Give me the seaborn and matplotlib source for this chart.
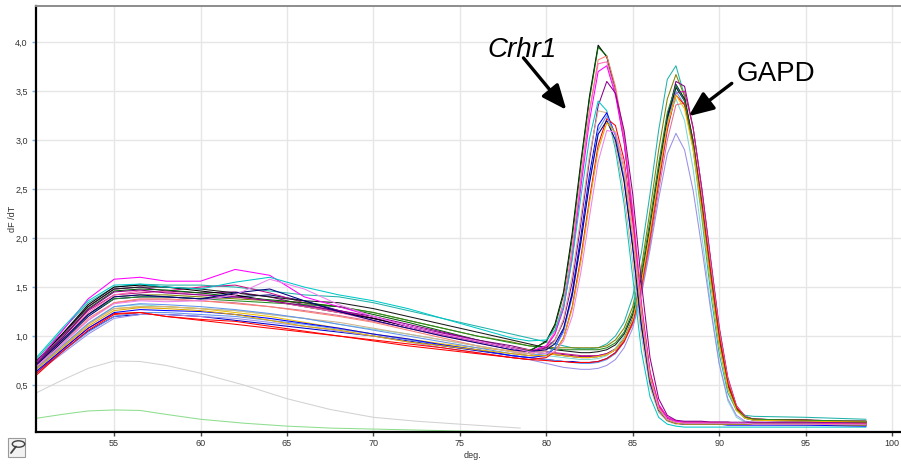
import matplotlib
matplotlib.use("Agg")
import matplotlib.pyplot as plt
from matplotlib.patches import Rectangle, Circle
from matplotlib.lines import Line2D
from matplotlib.ticker import FuncFormatter
import pandas as pd
import seaborn as sns

# Temperature grids (deg. C): slow background region and melt-peak region
temps_hump = [50.5, 52, 53.5, 55, 56.5, 58, 60, 62, 64, 66, 68, 70, 72, 74, 76, 78]
temps_melt = [79, 80, 80.5, 81, 81.5, 82, 82.5, 83, 83.5, 84, 84.5, 85, 85.5, 86,
              86.5, 87, 87.5, 88, 88.5, 89, 89.5, 90, 90.5, 91, 91.5, 92, 95, 98.5]

# Crhr1 samples: dF/dT on the background grid
crhr1_hump = [
    [0.74, 1.02, 1.32, 1.50, 1.52, 1.50, 1.46, 1.42, 1.36, 1.30, 1.24, 1.18, 1.10, 1.02, 0.95, 0.88],
    [0.72, 0.98, 1.28, 1.46, 1.48, 1.47, 1.44, 1.40, 1.37, 1.34, 1.30, 1.22, 1.14, 1.05, 0.96, 0.88],
    [0.68, 0.92, 1.18, 1.34, 1.38, 1.38, 1.36, 1.33, 1.30, 1.25, 1.20, 1.14, 1.06, 0.98, 0.90, 0.84],
    [0.70, 0.96, 1.24, 1.42, 1.46, 1.45, 1.42, 1.40, 1.36, 1.30, 1.24, 1.16, 1.08, 1.00, 0.93, 0.86],
    [0.73, 1.05, 1.38, 1.58, 1.60, 1.56, 1.56, 1.68, 1.62, 1.40, 1.30, 1.20, 1.10, 1.02, 0.95, 0.88],
    [0.71, 0.98, 1.27, 1.45, 1.47, 1.44, 1.42, 1.40, 1.36, 1.31, 1.26, 1.20, 1.12, 1.04, 0.96, 0.88],
    [0.78, 1.08, 1.36, 1.52, 1.53, 1.50, 1.48, 1.55, 1.60, 1.50, 1.42, 1.36, 1.28, 1.18, 1.08, 0.98],
    [0.66, 0.88, 1.12, 1.28, 1.30, 1.30, 1.28, 1.26, 1.22, 1.18, 1.14, 1.08, 1.02, 0.96, 0.90, 0.84],
    [0.64, 0.86, 1.08, 1.24, 1.27, 1.26, 1.25, 1.22, 1.18, 1.13, 1.08, 1.02, 0.97, 0.91, 0.86, 0.80],
    [0.60, 0.84, 1.06, 1.22, 1.24, 1.20, 1.17, 1.15, 1.10, 1.05, 1.00, 0.96, 0.92, 0.88, 0.83, 0.78],
    [0.67, 0.90, 1.13, 1.30, 1.33, 1.32, 1.30, 1.27, 1.23, 1.18, 1.12, 1.06, 1.00, 0.94, 0.88, 0.82],
    [0.70, 0.96, 1.22, 1.40, 1.42, 1.40, 1.38, 1.44, 1.48, 1.36, 1.25, 1.16, 1.08, 1.00, 0.93, 0.86],
    [0.66, 0.88, 1.10, 1.26, 1.29, 1.28, 1.26, 1.22, 1.16, 1.10, 1.06, 1.00, 0.94, 0.90, 0.86, 0.82],
    [0.69, 0.92, 1.16, 1.33, 1.36, 1.35, 1.36, 1.42, 1.58, 1.48, 1.32, 1.20, 1.10, 1.02, 0.95, 0.88],
]

# Crhr1 samples: dF/dT on the melt grid (peak near 83 deg.)
crhr1_melt = [
    [0.84, 0.95, 1.12, 1.45, 2.05, 2.78, 3.45, 3.97, 3.85, 3.50, 3.00, 2.20, 1.25, 0.58, 0.28, 0.16, 0.12, 0.11, 0.11, 0.11, 0.11, 0.10, 0.10, 0.10, 0.10, 0.10, 0.10, 0.09],
    [0.85, 0.94, 1.10, 1.42, 2.00, 2.74, 3.42, 3.95, 3.86, 3.52, 3.02, 2.22, 1.28, 0.60, 0.29, 0.17, 0.13, 0.12, 0.12, 0.12, 0.12, 0.12, 0.12, 0.11, 0.11, 0.11, 0.11, 0.11],
    [0.80, 0.88, 1.02, 1.30, 1.85, 2.60, 3.30, 3.82, 3.86, 3.55, 3.05, 2.30, 1.35, 0.64, 0.30, 0.17, 0.13, 0.12, 0.12, 0.12, 0.11, 0.11, 0.11, 0.11, 0.11, 0.11, 0.10, 0.10],
    [0.82, 0.90, 1.05, 1.35, 1.90, 2.62, 3.30, 3.78, 3.80, 3.50, 3.00, 2.25, 1.30, 0.62, 0.30, 0.17, 0.13, 0.12, 0.12, 0.12, 0.12, 0.12, 0.11, 0.11, 0.11, 0.11, 0.11, 0.10],
    [0.84, 0.90, 1.02, 1.28, 1.80, 2.52, 3.20, 3.70, 3.76, 3.46, 2.98, 2.25, 1.32, 0.63, 0.30, 0.17, 0.13, 0.12, 0.12, 0.12, 0.12, 0.12, 0.12, 0.11, 0.11, 0.11, 0.11, 0.10],
    [0.84, 0.88, 0.96, 1.15, 1.55, 2.15, 2.80, 3.35, 3.60, 3.48, 3.10, 2.45, 1.55, 0.78, 0.36, 0.19, 0.14, 0.13, 0.13, 0.13, 0.12, 0.12, 0.12, 0.12, 0.12, 0.12, 0.12, 0.11],
    [0.95, 0.96, 1.06, 1.30, 1.78, 2.42, 3.02, 3.40, 3.30, 2.90, 2.35, 1.60, 0.85, 0.38, 0.17, 0.10, 0.08, 0.07, 0.07, 0.07, 0.07, 0.07, 0.07, 0.07, 0.07, 0.07, 0.07, 0.07],
    [0.82, 0.85, 0.95, 1.18, 1.62, 2.22, 2.85, 3.30, 3.28, 2.95, 2.45, 1.75, 1.00, 0.48, 0.22, 0.13, 0.10, 0.10, 0.10, 0.10, 0.10, 0.10, 0.10, 0.10, 0.10, 0.10, 0.09, 0.09],
    [0.78, 0.80, 0.88, 1.06, 1.45, 2.02, 2.65, 3.15, 3.28, 3.05, 2.60, 1.90, 1.10, 0.52, 0.24, 0.14, 0.11, 0.10, 0.10, 0.10, 0.10, 0.10, 0.09, 0.09, 0.09, 0.09, 0.09, 0.08],
    [0.76, 0.78, 0.84, 0.98, 1.30, 1.80, 2.40, 2.95, 3.22, 3.15, 2.80, 2.15, 1.30, 0.62, 0.28, 0.15, 0.12, 0.11, 0.11, 0.11, 0.11, 0.11, 0.11, 0.10, 0.10, 0.10, 0.10, 0.10],
    [0.80, 0.82, 0.88, 1.04, 1.40, 1.95, 2.58, 3.10, 3.25, 3.05, 2.62, 1.95, 1.14, 0.55, 0.25, 0.14, 0.11, 0.10, 0.10, 0.10, 0.10, 0.10, 0.10, 0.10, 0.10, 0.10, 0.10, 0.09],
    [0.84, 0.86, 0.92, 1.08, 1.42, 1.96, 2.56, 3.06, 3.20, 3.00, 2.58, 1.92, 1.12, 0.54, 0.25, 0.14, 0.11, 0.10, 0.10, 0.10, 0.10, 0.10, 0.10, 0.10, 0.10, 0.10, 0.10, 0.09],
    [0.80, 0.80, 0.84, 0.98, 1.28, 1.76, 2.36, 2.90, 3.18, 3.08, 2.70, 2.02, 1.20, 0.56, 0.25, 0.14, 0.11, 0.10, 0.10, 0.10, 0.10, 0.10, 0.10, 0.10, 0.10, 0.10, 0.10, 0.09],
    [0.84, 0.82, 0.84, 0.95, 1.20, 1.65, 2.22, 2.78, 3.10, 3.08, 2.75, 2.10, 1.28, 0.60, 0.27, 0.15, 0.12, 0.11, 0.11, 0.11, 0.11, 0.11, 0.11, 0.11, 0.11, 0.10, 0.10, 0.10],
]
crhr1_colors = ["#000000", "#006400", "#fa8072", "#ff69b4", "#ff00ff", "#8b008b", "#00c8c8",
                "#d2b48c", "#0000ff", "#ff0000", "#6495ed", "#000080", "#e0a800", "#ee82ee"]

# GAPD samples: dF/dT on the background grid
gapd_hump = [
    [0.76, 1.06, 1.34, 1.50, 1.53, 1.52, 1.52, 1.50, 1.46, 1.42, 1.40, 1.34, 1.26, 1.18, 1.10, 1.02],
    [0.70, 0.95, 1.22, 1.40, 1.42, 1.42, 1.40, 1.38, 1.36, 1.34, 1.30, 1.24, 1.16, 1.08, 1.00, 0.94],
    [0.72, 1.00, 1.30, 1.48, 1.50, 1.46, 1.44, 1.45, 1.40, 1.32, 1.25, 1.18, 1.10, 1.03, 0.96, 0.90],
    [0.68, 0.94, 1.20, 1.38, 1.40, 1.40, 1.38, 1.40, 1.42, 1.36, 1.26, 1.18, 1.10, 1.02, 0.95, 0.88],
    [0.62, 0.84, 1.05, 1.20, 1.22, 1.22, 1.20, 1.16, 1.12, 1.08, 1.04, 1.00, 0.95, 0.90, 0.85, 0.80],
    [0.70, 0.98, 1.26, 1.42, 1.44, 1.46, 1.50, 1.52, 1.44, 1.34, 1.26, 1.18, 1.10, 1.02, 0.95, 0.88],
    [0.64, 0.84, 1.04, 1.20, 1.24, 1.24, 1.22, 1.20, 1.16, 1.12, 1.07, 1.02, 0.96, 0.91, 0.86, 0.80],
    [0.66, 0.88, 1.12, 1.30, 1.32, 1.30, 1.28, 1.26, 1.22, 1.18, 1.12, 1.07, 1.02, 0.96, 0.90, 0.84],
    [0.68, 0.92, 1.16, 1.34, 1.37, 1.37, 1.36, 1.34, 1.30, 1.26, 1.21, 1.15, 1.08, 1.01, 0.94, 0.88],
    [0.62, 0.82, 1.02, 1.18, 1.22, 1.22, 1.20, 1.18, 1.14, 1.10, 1.05, 1.00, 0.94, 0.88, 0.83, 0.78],
    [0.74, 1.02, 1.30, 1.48, 1.50, 1.50, 1.48, 1.44, 1.40, 1.36, 1.34, 1.28, 1.20, 1.12, 1.04, 0.96],
    [0.62, 0.86, 1.08, 1.23, 1.24, 1.20, 1.16, 1.12, 1.08, 1.04, 1.00, 0.95, 0.90, 0.86, 0.82, 0.78],
    [0.70, 0.96, 1.22, 1.38, 1.40, 1.40, 1.38, 1.36, 1.34, 1.32, 1.30, 1.24, 1.16, 1.08, 1.00, 0.93],
    [0.68, 0.90, 1.12, 1.28, 1.30, 1.30, 1.28, 1.24, 1.20, 1.14, 1.08, 1.02, 0.97, 0.92, 0.88, 0.85],
]

# GAPD samples: dF/dT on the melt grid (peak near 87.5 deg.)
gapd_melt = [
    [0.98, 0.94, 0.92, 0.90, 0.88, 0.87, 0.87, 0.88, 0.92, 1.00, 1.14, 1.40, 1.85, 2.45, 3.10, 3.62, 3.76, 3.45, 2.90, 2.20, 1.45, 0.82, 0.42, 0.24, 0.19, 0.18, 0.17, 0.15],
    [0.90, 0.89, 0.88, 0.88, 0.88, 0.88, 0.88, 0.88, 0.90, 0.96, 1.08, 1.30, 1.70, 2.28, 2.90, 3.42, 3.67, 3.45, 2.98, 2.32, 1.60, 0.95, 0.50, 0.26, 0.17, 0.15, 0.14, 0.13],
    [0.86, 0.84, 0.82, 0.81, 0.80, 0.79, 0.79, 0.80, 0.82, 0.87, 0.97, 1.16, 1.52, 2.05, 2.66, 3.22, 3.60, 3.55, 3.12, 2.50, 1.78, 1.08, 0.56, 0.28, 0.18, 0.15, 0.14, 0.13],
    [0.84, 0.82, 0.81, 0.80, 0.79, 0.78, 0.78, 0.79, 0.81, 0.86, 0.97, 1.18, 1.56, 2.10, 2.70, 3.25, 3.57, 3.42, 2.98, 2.34, 1.64, 0.98, 0.50, 0.26, 0.17, 0.15, 0.14, 0.12],
    [0.78, 0.76, 0.75, 0.74, 0.74, 0.73, 0.73, 0.74, 0.77, 0.83, 0.95, 1.16, 1.54, 2.08, 2.68, 3.22, 3.54, 3.40, 2.96, 2.32, 1.62, 0.96, 0.50, 0.25, 0.16, 0.14, 0.13, 0.12],
    [0.86, 0.84, 0.83, 0.82, 0.81, 0.80, 0.80, 0.80, 0.82, 0.86, 0.95, 1.12, 1.45, 1.96, 2.55, 3.10, 3.48, 3.50, 3.12, 2.50, 1.80, 1.10, 0.58, 0.29, 0.18, 0.15, 0.14, 0.13],
    [0.78, 0.76, 0.75, 0.74, 0.73, 0.72, 0.72, 0.73, 0.76, 0.82, 0.94, 1.15, 1.52, 2.05, 2.64, 3.18, 3.50, 3.36, 2.92, 2.28, 1.58, 0.93, 0.48, 0.24, 0.16, 0.14, 0.13, 0.11],
    [0.82, 0.80, 0.79, 0.78, 0.77, 0.76, 0.76, 0.77, 0.80, 0.87, 1.00, 1.22, 1.60, 2.12, 2.70, 3.20, 3.42, 3.20, 2.70, 2.02, 1.32, 0.72, 0.34, 0.17, 0.12, 0.11, 0.10, 0.10],
    [0.86, 0.84, 0.82, 0.80, 0.79, 0.78, 0.78, 0.79, 0.81, 0.86, 0.95, 1.12, 1.45, 1.92, 2.48, 3.00, 3.36, 3.38, 3.00, 2.42, 1.74, 1.06, 0.56, 0.28, 0.18, 0.15, 0.14, 0.13],
    [0.76, 0.72, 0.70, 0.68, 0.67, 0.66, 0.66, 0.67, 0.70, 0.76, 0.88, 1.08, 1.42, 1.88, 2.40, 2.86, 3.07, 2.90, 2.48, 1.90, 1.28, 0.72, 0.36, 0.19, 0.13, 0.12, 0.11, 0.10],
    [0.92, 0.88, 0.86, 0.85, 0.84, 0.83, 0.83, 0.84, 0.86, 0.91, 1.02, 1.22, 1.60, 2.12, 2.70, 3.22, 3.54, 3.42, 2.98, 2.34, 1.64, 0.98, 0.50, 0.26, 0.17, 0.15, 0.14, 0.12],
    [0.76, 0.75, 0.74, 0.74, 0.73, 0.73, 0.73, 0.74, 0.77, 0.83, 0.94, 1.14, 1.50, 2.02, 2.60, 3.14, 3.46, 3.36, 2.95, 2.34, 1.66, 1.00, 0.52, 0.27, 0.17, 0.15, 0.14, 0.12],
    [0.90, 0.88, 0.87, 0.86, 0.86, 0.86, 0.86, 0.86, 0.88, 0.93, 1.04, 1.25, 1.64, 2.18, 2.76, 3.28, 3.56, 3.40, 2.94, 2.28, 1.58, 0.92, 0.47, 0.25, 0.17, 0.15, 0.14, 0.13],
    [0.84, 0.82, 0.81, 0.80, 0.79, 0.78, 0.78, 0.79, 0.81, 0.86, 0.97, 1.17, 1.54, 2.06, 2.63, 3.15, 3.46, 3.32, 2.90, 2.26, 1.56, 0.92, 0.47, 0.24, 0.16, 0.14, 0.13, 0.12],
]
gapd_colors = ["#20b2aa", "#808000", "#800080", "#000080", "#0000cd", "#c71585", "#6495ed",
               "#7fd8d0", "#db7093", "#9a90e8", "#1a1a1a", "#ff0000", "#228b22", "#f0c000"]

# No-template controls
ntc_temps = [50.5, 52, 53.5, 55, 56.5, 58, 60, 62.5, 65, 67.5, 70, 72.5, 75, 78.5]
ntc_gray = [0.42, 0.55, 0.67, 0.745, 0.74, 0.70, 0.62, 0.50, 0.36, 0.25, 0.17, 0.13, 0.10, 0.06]
ntc_green = [0.16, 0.20, 0.235, 0.245, 0.24, 0.20, 0.15, 0.11, 0.08, 0.06, 0.05, 0.04, 0.03, 0.02]
ntc_colors = ["#d2d2d2", "#8ede8e"]

x_ticks = [55, 60, 65, 70, 75, 80, 85, 90, 95, 100]
y_ticks = [0.5, 1.0, 1.5, 2.0, 2.5, 3.0, 3.5, 4.0]

# Long-format table, one row per reading
rows = []
palette = {}
for name, temps, vals, col in [("NTC 1", ntc_temps, ntc_gray, ntc_colors[0]),
                               ("NTC 2", ntc_temps, ntc_green, ntc_colors[1])]:
    palette[name] = col
    rows += [(name, t, v) for t, v in zip(temps, vals)]
for group, humps, melts, cols in [("GAPD", gapd_hump, gapd_melt, gapd_colors),
                                  ("Crhr1", crhr1_hump, crhr1_melt, crhr1_colors)]:
    for i, (h, m) in enumerate(zip(humps, melts)):
        name = f"{group} {i + 1}"
        palette[name] = cols[i]
        rows += [(name, t, v) for t, v in zip(temps_hump + temps_melt, h + m)]
df = pd.DataFrame(rows, columns=["sample", "deg", "dFdT"])

sns.set_theme(style="white")
plt.rcParams["font.family"] = ["Liberation Sans", "DejaVu Sans"]

fig = plt.figure(figsize=(9.01, 4.65), dpi=100)
ax = fig.add_axes([36 / 901, 33 / 465, 865 / 901, 426 / 465])

sns.lineplot(data=df, x="deg", y="dFdT", hue="sample", hue_order=list(palette),
             palette=palette, estimator=None, sort=False, linewidth=0.75,
             legend=False, ax=ax)

ax.set_xlim(50.48, 100.52)
ax.set_ylim(0.02, 4.37)
ax.set_xticks(x_ticks)
ax.set_yticks(y_ticks)
ax.yaxis.set_major_formatter(FuncFormatter(lambda v, p: f"{v:.1f}".replace(".", ",")))
ax.xaxis.set_major_formatter(FuncFormatter(lambda v, p: f"{v:.0f}"))
ax.grid(True, color="#e6e6e6", linewidth=1.0)
ax.set_axisbelow(True)

ax.tick_params(axis="x", length=3, width=1, color="#444444", pad=2,
               labelsize=6.5, labelcolor="#333333", bottom=True)
ax.tick_params(axis="y", length=3, width=1, color="#7fb2e5", pad=3,
               labelsize=6.5, labelcolor="#333333", left=True)

for side in ("left", "bottom"):
    ax.spines[side].set_color("black")
    ax.spines[side].set_linewidth(1.6)
ax.spines["top"].set_color("#8c8c8c")
ax.spines["top"].set_linewidth(1.4)
ax.spines["right"].set_visible(False)

ax.set_xlabel("deg.", fontsize=6.5, color="#333333")
ax.set_ylabel("dF /dT", fontsize=6.5, color="#333333")
ax.xaxis.set_label_coords(0.505, -0.044)
ax.yaxis.set_label_coords(-0.022, 0.5)

# Product labels with arrows
arrow_kw = dict(arrowstyle="-|>,head_length=0.75,head_width=0.32", color="black",
                lw=2.4, mutation_scale=20, shrinkA=0, shrinkB=0)
ax.text(78.62, 3.85, "Crhr1", fontsize=20, style="italic", color="black",
        ha="center", va="baseline")
ax.annotate("", xy=(81.16, 3.31), xytext=(78.68, 3.84), arrowprops=arrow_kw)
ax.text(93.27, 3.605, "GAPD", fontsize=20, color="black", ha="center", va="baseline")
ax.annotate("", xy=(88.24, 3.245), xytext=(90.73, 3.58), arrowprops=arrow_kw)

# Small tool button at the lower left corner
btn = Rectangle((8 / 901, 8 / 465), 17 / 901, 19 / 465, transform=fig.transFigure,
                facecolor="#f2f2f2", edgecolor="#9a9a9a", linewidth=0.8)
fig.add_artist(btn)
fig.add_artist(Circle((18.5 / 901, 21 / 465), 3.2 / 465, transform=fig.transFigure,
                      facecolor="none", edgecolor="#404040", linewidth=1.0))
fig.add_artist(Line2D([11 / 901, 16 / 901], [12 / 465, 18.5 / 465], transform=fig.transFigure,
                      color="#404040", linewidth=1.3))

fig.savefig("out.png", dpi=100)
